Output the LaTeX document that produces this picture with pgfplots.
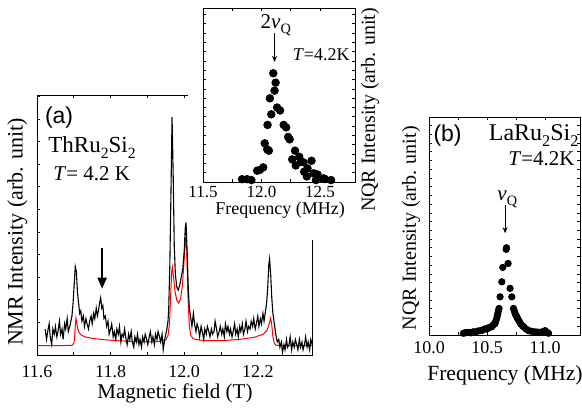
\documentclass[border=0pt]{standalone}
\usepackage{fontspec}
\setmainfont{Liberation Serif}
\newfontfamily\sansf{Liberation Sans}
\usepackage{graphicx}
\usepackage{pgfplots}
\pgfplotsset{compat=1.18}
\usetikzlibrary{arrows.meta}

\newcommand{\fs}[1]{\fontsize{#1}{#1}\selectfont}
\newcommand{\sub}[1]{\raisebox{-0.55ex}{\scalebox{0.68}{#1}}}

\pgfplotsset{
  panel/.style={
    scale only axis, anchor=south west,
    tick align=inside,
    axis line style={line width=0.5pt},
    every tick/.style={black, line width=0.4pt},
    major tick length=1.6pt, minor tick length=1.6pt,
    ymin=0, ymax=1, yticklabels={},
    minor x tick num=1,
    xticklabel style={/pgf/number format/fixed, /pgf/number format/fixed zerofill,
      /pgf/number format/precision=1, /pgf/number format/assume math mode=true},
  },
}

\begin{document}
\begin{tikzpicture}
\useasboundingbox (0,0) rectangle (291pt,207pt);

% ---- (a) NMR spectrum ----
\begin{axis}[panel,
  at={(18.5pt,29.5pt)}, width=138pt, height=130pt,
  xmin=11.6, xmax=12.35,
  xtick={11.6,11.8,12.0,12.2},
  ytick={0.038,0.125,...,1.0}, ytick pos=left,
  xticklabel style={font=\fs{9pt}, anchor=base, yshift=-11pt},
  xlabel={Magnetic field (T)},
  xlabel style={font=\fs{10.5pt}, at={(axis description cs:0.5,0)}, anchor=base, yshift=-21.5pt},
  ylabel={NMR Intensity (arb. unit)},
  ylabel style={font=\fs{11pt}, at={(axis description cs:-0.0707,0.473)}, anchor=center},
]
\addplot[red, line width=0.5pt] coordinates {
(11.600,0.036) (11.650,0.036) (11.695,0.037) (11.700,0.045) (11.702,0.065)
(11.704,0.110) (11.706,0.142) (11.708,0.125) (11.711,0.100) (11.715,0.085)
(11.720,0.077) (11.730,0.070) (11.750,0.064) (11.780,0.059) (11.820,0.055)
(11.860,0.052) (11.900,0.050) (11.930,0.052) (11.950,0.058) (11.956,0.075)
(11.960,0.120) (11.963,0.220) (11.966,0.320) (11.968,0.338) (11.971,0.300)
(11.975,0.245) (11.980,0.210) (11.985,0.200) (11.990,0.215) (11.995,0.265)
(12.000,0.370) (12.004,0.454) (12.007,0.400) (12.010,0.230) (12.014,0.110)
(12.018,0.075) (12.025,0.062) (12.050,0.056) (12.100,0.055) (12.150,0.060)
(12.190,0.068) (12.215,0.080) (12.225,0.095) (12.231,0.120) (12.235,0.142)
(12.238,0.115) (12.241,0.070) (12.245,0.045) (12.250,0.037) (12.300,0.036)
(12.350,0.036)
};
\addplot[black, line width=0.55pt] coordinates {
(11.622,0.10) (11.626,0.06) (11.629,0.09) (11.633,0.12) (11.636,0.07)
(11.640,0.04) (11.643,0.10) (11.647,0.08) (11.650,0.11) (11.654,0.07)
(11.657,0.09) (11.661,0.13) (11.664,0.08) (11.668,0.10) (11.671,0.06)
(11.675,0.12) (11.678,0.10) (11.682,0.14) (11.685,0.09) (11.689,0.11)
(11.692,0.13) (11.695,0.15) (11.698,0.20) (11.701,0.27) (11.704,0.34)
(11.707,0.32) (11.710,0.24) (11.713,0.20) (11.716,0.16) (11.719,0.17)
(11.722,0.13) (11.726,0.15) (11.729,0.11) (11.733,0.14) (11.736,0.12)
(11.740,0.10) (11.743,0.13) (11.747,0.15) (11.750,0.12) (11.754,0.16)
(11.757,0.14) (11.761,0.18) (11.764,0.15) (11.767,0.17) (11.770,0.20)
(11.773,0.22) (11.776,0.18) (11.779,0.19) (11.782,0.14) (11.786,0.15)
(11.789,0.11) (11.793,0.13) (11.796,0.08) (11.800,0.10) (11.803,0.12)
(11.807,0.07) (11.810,0.09) (11.814,0.06) (11.817,0.10) (11.821,0.08)
(11.824,0.11) (11.828,0.05) (11.831,0.08) (11.835,0.07) (11.838,0.10)
(11.842,0.06) (11.845,0.04) (11.849,0.08) (11.852,0.06) (11.856,0.09)
(11.859,0.05) (11.863,0.03) (11.866,0.07) (11.870,0.05) (11.873,0.08)
(11.877,0.04) (11.880,0.06) (11.884,0.03) (11.887,0.07) (11.891,0.05)
(11.894,0.08) (11.898,0.06) (11.901,0.04) (11.905,0.07) (11.908,0.09)
(11.912,0.05) (11.915,0.07) (11.919,0.04) (11.922,0.08) (11.926,0.06)
(11.929,0.09) (11.933,0.07) (11.936,0.05) (11.940,0.08) (11.943,0.02)
(11.947,0.06) (11.950,0.08) (11.953,0.10) (11.956,0.13) (11.958,0.18)
(11.961,0.35) (11.964,0.62) (11.967,0.915) (11.970,0.70) (11.973,0.42)
(11.976,0.31) (11.980,0.26) (11.984,0.25) (11.988,0.27) (11.992,0.30)
(11.996,0.33) (12.000,0.40) (12.003,0.49) (12.005,0.51) (12.008,0.40)
(12.011,0.26) (12.014,0.18) (12.018,0.14) (12.021,0.11) (12.025,0.16)
(12.028,0.12) (12.032,0.09) (12.035,0.12) (12.039,0.10) (12.042,0.07)
(12.046,0.11) (12.049,0.09) (12.053,0.06) (12.056,0.10) (12.060,0.08)
(12.063,0.11) (12.067,0.09) (12.070,0.07) (12.074,0.10) (12.077,0.08)
(12.081,0.09) (12.084,0.13) (12.088,0.10) (12.091,0.07) (12.095,0.09)
(12.098,0.11) (12.102,0.08) (12.105,0.10) (12.109,0.07) (12.112,0.12)
(12.116,0.09) (12.119,0.11) (12.123,0.08) (12.126,0.10) (12.130,0.07)
(12.133,0.09) (12.137,0.12) (12.140,0.08) (12.144,0.10) (12.147,0.07)
(12.151,0.11) (12.154,0.09) (12.158,0.12) (12.161,0.08) (12.165,0.10)
(12.168,0.13) (12.172,0.09) (12.175,0.11) (12.179,0.10) (12.182,0.13)
(12.186,0.11) (12.189,0.14) (12.193,0.10) (12.196,0.12) (12.200,0.15)
(12.203,0.11) (12.207,0.14) (12.210,0.12) (12.214,0.16) (12.217,0.13)
(12.221,0.17) (12.224,0.20) (12.227,0.26) (12.230,0.35) (12.232,0.37)
(12.235,0.31) (12.238,0.22) (12.241,0.16) (12.244,0.13) (12.247,0.10)
(12.250,0.07) (12.253,0.05) (12.257,0.06) (12.260,0.03) (12.264,0.05)
(12.267,0.01) (12.271,0.04) (12.274,0.02) (12.278,0.06) (12.281,0.03)
(12.285,0.04) (12.288,0.07) (12.292,0.02) (12.295,0.05) (12.299,0.03)
(12.302,0.06) (12.306,0.04) (12.309,0.02) (12.313,0.06) (12.316,0.03)
(12.320,0.05) (12.323,0.02) (12.327,0.04) (12.330,0.07) (12.334,0.03)
(12.337,0.05) (12.341,0.02) (12.344,0.06) (12.348,0.04) (12.350,0.05)
};
\draw[line width=1.1pt, -{Triangle[length=5.5pt,width=4.5pt]}]
  (axis cs:11.777,0.41) -- (axis cs:11.777,0.255);
\node[anchor=center, font=\sansf\fs{11.5pt}] at (rel axis cs:0.08,0.913) {(a)};
\node[anchor=base west, font=\fs{11.5pt}, inner sep=0pt] at (rel axis cs:0.04,0.777) {ThRu\sub{2}Si\sub{2}};
\node[anchor=base west, font=\fs{10.5pt}, inner sep=0pt] at (rel axis cs:0.058,0.673) {\textit{T}= 4.2 K};
\end{axis}

% white backing of the inset
\fill[white] (93.75pt,87pt) rectangle (160pt,165pt);

% ---- inset: NQR 2nu_Q ----
\begin{axis}[panel,
  at={(101.5pt,116pt)}, width=76pt, height=87pt,
  xmin=11.5, xmax=12.8,
  xtick={11.5,12.0,12.5},
  ytick={0,0.0535,...,1.0},
  xticklabel style={font=\fs{8.5pt}, anchor=base, yshift=-7.5pt},
  xlabel={Frequency (MHz)},
  xlabel style={font=\fs{9pt}, at={(axis description cs:0.507,0)}, anchor=base, yshift=-16pt},
  ylabel={NQR Intensity (arb. unit)},
  ylabel style={font=\fs{10pt}, at={(axis description cs:1.099,0.414)}, anchor=center},
]
\addplot[only marks, mark=*, mark size=1.9pt, black] coordinates {
(11.834,0.016) (11.877,0.016) (11.914,0.011) (11.963,0.065) (11.985,0.069)
(12.015,0.084) (12.028,0.222) (12.049,0.188) (12.063,0.180) (12.052,0.328)
(12.084,0.389) (12.072,0.481) (12.112,0.525) (12.121,0.571) (12.101,0.625)
(12.134,0.428) (12.159,0.411) (12.190,0.328) (12.211,0.314) (12.228,0.259)
(12.241,0.245) (12.287,0.180) (12.263,0.130) (12.323,0.145) (12.336,0.117)
(12.293,0.095) (12.359,0.113) (12.428,0.122) (12.394,0.078) (12.365,0.059)
(12.388,0.032) (12.446,0.050) (12.480,0.043) (12.466,0.011) (12.532,0.021)
(12.595,0.011) (12.543,0.017)
};
\draw[line width=0.5pt, -{Stealth[length=3pt,width=2.5pt]}]
  (axis cs:12.112,0.856) -- (axis cs:12.112,0.69);
\node[anchor=base west, font=\fs{10.5pt}, inner sep=0pt] at (axis cs:11.99,0.885) {2\textit{ν}\sub{Q}};
\node[anchor=base east, font=\fs{9pt}, inner sep=0pt] at (rel axis cs:0.967,0.70) {\textit{T}=4.2K};
\end{axis}

% ---- (b) NQR nu_Q ----
\begin{axis}[panel,
  at={(214.5pt,39.5pt)}, width=75.5pt, height=109pt,
  xmin=10, xmax=11.3,
  xtick={10.0,10.5,11.0},
  ytick={0,0.04,...,1.0},
  xticklabel style={font=\fs{9pt}, anchor=base, yshift=-9pt},
  xlabel={Frequency (MHz)},
  xlabel style={font=\fs{10.8pt}, at={(axis description cs:0.503,0)}, anchor=base, yshift=-22.5pt},
  ylabel={NQR Intensity (arb. unit)},
  ylabel style={font=\fs{10pt}, at={(axis description cs:-0.119,0.49)}, anchor=center},
]
\addplot[only marks, mark=*, mark size=1.6pt, black] coordinates {
(10.296,0.008) (10.310,0.010) (10.325,0.011) (10.345,0.012) (10.360,0.010)
(10.382,0.015) (10.400,0.014) (10.420,0.018) (10.440,0.020) (10.460,0.022)
(10.480,0.028) (10.497,0.027) (10.510,0.032) (10.525,0.036) (10.540,0.038)
(10.550,0.045) (10.560,0.050) (10.569,0.053) (10.575,0.065) (10.583,0.076)
(10.588,0.088) (10.592,0.099) (10.597,0.110) (10.603,0.122) (10.612,0.175)
(10.627,0.244) (10.635,0.310) (10.664,0.393) (10.667,0.400) (10.681,0.328)
(10.698,0.214) (10.713,0.175) (10.727,0.122) (10.735,0.110) (10.741,0.099)
(10.748,0.090) (10.756,0.084) (10.763,0.075) (10.770,0.069) (10.780,0.060)
(10.790,0.050) (10.805,0.042) (10.819,0.035) (10.835,0.028) (10.856,0.020)
(10.875,0.018) (10.899,0.015) (10.920,0.014) (10.940,0.013) (10.957,0.012)
(10.980,0.016) (11.000,0.020) (11.015,0.012) (11.029,0.008)
};
\draw[line width=0.5pt, -{Stealth[length=3pt,width=2.5pt]}]
  (axis cs:10.655,0.595) -- (axis cs:10.655,0.467);
\node[anchor=base west, font=\fs{10.5pt}, inner sep=0pt] at (axis cs:10.586,0.618) {\textit{ν}\sub{Q}};
\node[anchor=center, font=\sansf\fs{11.5pt}] at (rel axis cs:0.123,0.916) {(b)};
\node[anchor=base east, font=\fs{12pt}, inner sep=0pt] at (rel axis cs:0.993,0.893) {LaRu\sub{2}Si\sub{2}};
\node[anchor=base east, font=\fs{10.5pt}, inner sep=0pt] at (rel axis cs:0.967,0.779) {\textit{T}=4.2K};
\end{axis}
\end{tikzpicture}
\end{document}
